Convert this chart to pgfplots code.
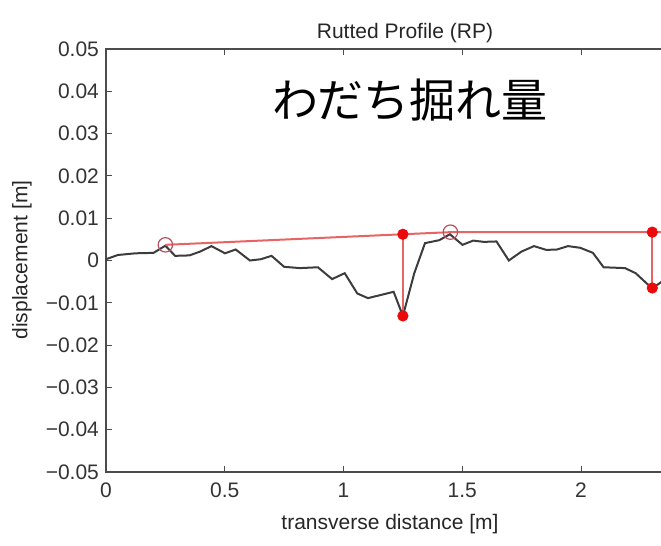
\documentclass[border=0pt]{standalone}
\usepackage{fontspec}
\setmainfont{Liberation Sans}
\newfontfamily\cjk{Noto Sans CJK JP}
\usepackage{pgfplots}
\pgfplotsset{compat=1.18}
\definecolor{prof}{RGB}{60,60,60}
\definecolor{rline}{RGB}{232,100,100}
\definecolor{rdot}{RGB}{235,10,10}
\definecolor{rcirc}{RGB}{180,80,100}
\begin{document}
\begin{tikzpicture}
\clip (0,0) rectangle (330.5pt,273pt);
\begin{axis}[
  at={(53pt,37pt)}, anchor=south west,
  scale only axis, width=296.9pt, height=211.5pt,
  xmin=0, xmax=2.5, ymin=-0.05, ymax=0.05,
  scaled y ticks=false, scaled x ticks=false,
  xtick={0,0.5,1,1.5,2},
  xticklabels={0,0.5,1,1.5,2},
  ytick={-0.05,-0.04,-0.03,-0.02,-0.01,0,0.01,0.02,0.03,0.04,0.05},
  yticklabels={−0.05,−0.04,−0.03,−0.02,−0.01,0,0.01,0.02,0.03,0.04,0.05},
  tick align=inside, tick pos=both,
  major tick length=3pt,
  tick style={color=black!70, line width=0.5pt},
  axis line style={black!70, line width=0.6pt},
  tick label style={font=\fontsize{10.5}{12}\selectfont, text=black!80},
  xticklabel style={yshift=-2pt},
  clip=false,
]
\addplot[prof, line width=1pt] coordinates {
(0,0.0003) (0.05,0.0013) (0.125,0.0017) (0.2,0.0018) (0.25,0.0035)
(0.291,0.0011) (0.351,0.0012) (0.396,0.0021) (0.444,0.0034) (0.501,0.0017)
(0.546,0.0026) (0.606,0.0000) (0.652,0.0003) (0.697,0.0011) (0.75,-0.0015)
(0.817,-0.0018) (0.892,-0.0016) (0.952,-0.0044) (1.005,-0.0030) (1.058,-0.0078)
(1.103,-0.0089) (1.211,-0.0074) (1.25,-0.0131) (1.298,-0.0030) (1.343,0.0041)
(1.403,0.0048) (1.448,0.0062) (1.501,0.0037) (1.546,0.0047) (1.591,0.0044)
(1.644,0.0045) (1.696,0.0000) (1.749,0.0021) (1.802,0.0034) (1.854,0.0025)
(1.899,0.0026) (1.945,0.0034) (1.997,0.0030) (2.05,0.0018) (2.095,-0.0016)
(2.185,-0.0018) (2.23,-0.0030) (2.276,-0.0054) (2.30,-0.0066) (2.34,-0.0050)
(2.40,-0.0030)
};
\addplot[rline, line width=1pt] coordinates {(0.25,0.0037) (1.25,0.0062) (1.45,0.0067) (2.30,0.0067) (2.5,0.0067)};
\addplot[rline, line width=1pt] coordinates {(1.25,0.0062) (1.25,-0.0131)};
\addplot[rline, line width=1pt] coordinates {(2.30,0.0067) (2.30,-0.0065)};
\addplot[only marks, mark=*, mark size=2.6pt, rdot, mark options={draw=rdot, fill=rdot}] coordinates {(1.25,0.0062) (1.25,-0.0131) (2.30,0.0067) (2.30,-0.0065)};
\addplot[only marks, mark=o, mark size=3.6pt, rcirc, mark options={line width=0.6pt}] coordinates {(0.25,0.0037) (1.45,0.0067)};
\end{axis}
\node[font=\fontsize{10.5}{12}\selectfont, text=black!85] at (202.5pt,256.5pt) {Rutted Profile (RP)};
\node[font=\cjk\fontsize{23}{26}\selectfont] at (205pt,223pt) {わだち掘れ量};
\node[font=\fontsize{10.5}{12}\selectfont, text=black!85] at (195pt,11pt) {transverse distance [m]};
\node[font=\fontsize{10.5}{12}\selectfont, text=black!85, rotate=90] at (11pt,143pt) {displacement [m]};
\end{tikzpicture}
\end{document}
